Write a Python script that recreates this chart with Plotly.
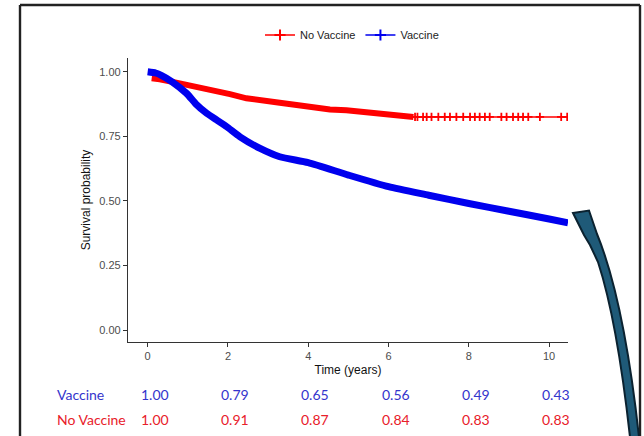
import numpy as np
import plotly.graph_objects as go

# ---------------- data ----------------
vacc_t = [0, 0.2, 0.35, 0.6, 0.97, 1.2, 1.47, 1.75, 1.97, 2.3, 2.8, 3.29, 4.0, 5.0, 6.0, 7.0, 8.0, 9.0, 10.0, 10.47]
vacc_s = [1.0, 0.995, 0.985, 0.962, 0.916, 0.875, 0.839, 0.81, 0.787, 0.748, 0.703, 0.671, 0.648, 0.6, 0.555, 0.522, 0.49, 0.46, 0.43, 0.415]

novac_t = [0.1, 0.3, 0.8, 1.22, 1.63, 2.05, 2.46, 2.88, 3.29, 3.71, 4.12, 4.54, 4.95, 5.37, 5.78, 6.2, 6.62, 10.47]
novac_s = [0.975, 0.971, 0.955, 0.942, 0.929, 0.913, 0.897, 0.886, 0.88, 0.871, 0.862, 0.854, 0.851, 0.845, 0.841, 0.832, 0.825, 0.825]

# censoring times in the sparse tail of the No Vaccine curve
novac_censor = [6.66, 6.72, 6.86, 6.95, 7.07, 7.24, 7.40, 7.53, 7.69, 7.86, 8.03, 8.15, 8.27, 8.40,
                8.52, 8.81, 8.94, 9.10, 9.23, 9.35, 9.48, 9.77, 10.3, 10.45]

table_times = [0, 2, 4, 6, 8, 10]
table_vacc = ["1.00", "0.79", "0.65", "0.56", "0.49", "0.43"]
table_novac = ["1.00", "0.91", "0.87", "0.84", "0.83", "0.83"]

x_ticks = [0, 2, 4, 6, 8, 10]
y_ticks = [0, 0.25, 0.5, 0.75, 1.0]
y_ticklabels = ["0.00", "0.25", "0.50", "0.75", "1.00"]

RED = "#ff0000"
BLUE = "#0000ee"
TXT_BLUE = "#3434cc"
TXT_RED = "#e8202a"

# ---------------- layout geometry (pixels) ----------------
W, H = 644, 436
L, R, T, B = 128, 568, 58, 342  # plot area edges


def px(xp):
    return (xp - L) / (R - L)


def py(yp):
    return (B - yp) / (B - T)


fig = go.Figure()

# No Vaccine: dense part (thick band)
nt = np.array(novac_t)
ns = np.array(novac_s)
mask = nt <= 6.62
fig.add_trace(go.Scatter(x=nt[mask], y=ns[mask], mode="lines",
                         line=dict(color=RED, width=6), showlegend=False, hoverinfo="skip"))
# No Vaccine: sparse tail
fig.add_trace(go.Scatter(x=nt[nt >= 6.2], y=ns[nt >= 6.2], mode="lines",
                         line=dict(color=RED, width=1.5), showlegend=False, hoverinfo="skip"))
cens_y = np.interp(novac_censor, novac_t, novac_s)
fig.add_trace(go.Scatter(x=novac_censor, y=cens_y, mode="markers",
                         marker=dict(symbol="cross-thin", size=6, line=dict(color=RED, width=1.8)),
                         showlegend=False, hoverinfo="skip"))

# Vaccine: thick band
fig.add_trace(go.Scatter(x=vacc_t, y=vacc_s, mode="lines",
                         line=dict(color=BLUE, width=7, shape="spline", smoothing=0.6),
                         showlegend=False, hoverinfo="skip"))

# legend entries
fig.add_trace(go.Scatter(x=[None], y=[None], mode="lines+markers", name="No Vaccine",
                         line=dict(color=RED, width=1.5),
                         marker=dict(symbol="cross-thin", size=8, line=dict(color=RED, width=2))))
fig.add_trace(go.Scatter(x=[None], y=[None], mode="lines+markers", name="Vaccine",
                         line=dict(color=BLUE, width=1.5),
                         marker=dict(symbol="cross-thin", size=8, line=dict(color=BLUE, width=2))))

annotations = []
# risk-table style rows
annotations.append(dict(x=px(55), y=py(394), xref="paper", yref="paper", text="Vaccine",
                        showarrow=False, xanchor="left", yanchor="middle",
                        font=dict(family="Lato", size=14, color=TXT_BLUE)))
annotations.append(dict(x=px(55), y=py(419), xref="paper", yref="paper", text="No Vaccine",
                        showarrow=False, xanchor="left", yanchor="middle",
                        font=dict(family="Lato", size=14, color=TXT_RED)))
for t, v, n in zip(table_times, table_vacc, table_novac):
    annotations.append(dict(x=t, y=py(394), xref="x", yref="paper", text=v, xshift=7,
                            showarrow=False, xanchor="center", yanchor="middle",
                            font=dict(family="Lato", size=14, color=TXT_BLUE)))
    annotations.append(dict(x=t, y=py(419), xref="x", yref="paper", text=n, xshift=7,
                            showarrow=False, xanchor="center", yanchor="middle",
                            font=dict(family="Lato", size=14, color=TXT_RED)))

shapes = []
# outer frame (left, top, right)
frame_line = dict(color="#222222", width=2.4)
shapes.append(dict(type="line", xref="paper", yref="paper",
                   x0=px(20), x1=px(20), y0=py(437), y1=py(5), line=frame_line, layer="above"))
shapes.append(dict(type="line", xref="paper", yref="paper",
                   x0=px(20), x1=px(640), y0=py(5), y1=py(5), line=frame_line, layer="above"))
shapes.append(dict(type="line", xref="paper", yref="paper",
                   x0=px(640), x1=px(640), y0=py(437), y1=py(5), line=frame_line, layer="above"))

# curved arrow
arrow_pts = [("M", 573, 213), ("L", 589, 210.5), ("L", 597, 234),
             ("Q", 624, 300, 639, 437), ("L", 630, 437),
             ("Q", 617, 320, 598, 262), ("L", 590, 245), ("L", 584, 235)]
path = ""
for p in arrow_pts:
    cmd = p[0]
    coords = p[1:]
    segs = []
    for i in range(0, len(coords), 2):
        segs.append(f"{px(coords[i]):.5f},{py(coords[i + 1]):.5f}")
    path += cmd + " " + " ".join(segs) + " "
path += "Z"
shapes.append(dict(type="path", xref="paper", yref="paper", path=path,
                   fillcolor="#1f5a78", line=dict(color="#0b2230", width=2), layer="above"))

fig.update_layout(
    width=W, height=H,
    margin=dict(l=L, r=W - R, t=T, b=H - B, pad=0),
    paper_bgcolor="white", plot_bgcolor="white",
    font=dict(family="Liberation Sans", size=11, color="#4d4d4d"),
    showlegend=True,
    legend=dict(orientation="h", x=px(352), y=py(35), xanchor="center", yanchor="middle",
                font=dict(family="Liberation Sans", size=11, color="#222222"),
                itemwidth=30, bgcolor="rgba(0,0,0,0)", tracegroupgap=0),
    xaxis=dict(range=[-0.49, 10.47], tickvals=x_ticks, ticks="outside", ticklen=4,
               tickcolor="#333333", showline=True, linecolor="#333333", linewidth=1.3,
               showgrid=False, zeroline=False,
               tickfont=dict(family="Liberation Sans", size=11, color="#4d4d4d"),
               title=dict(text="Time (years)", standoff=4,
                          font=dict(family="Liberation Sans", size=12, color="#111111"))),
    yaxis=dict(range=[-0.046, 1.053], tickvals=y_ticks, ticktext=y_ticklabels,
               ticks="outside", ticklen=4,
               tickcolor="#333333", showline=True, linecolor="#333333", linewidth=1.3,
               showgrid=False, zeroline=False,
               tickfont=dict(family="Liberation Sans", size=11, color="#4d4d4d"),
               title=dict(text="Survival probability", standoff=6,
                          font=dict(family="Liberation Sans", size=12, color="#111111"))),
    annotations=annotations,
    shapes=shapes,
)

fig.write_html("out.html",
               config={"displayModeBar": False},
               post_script="document.body.style.margin='0';document.body.style.overflow='hidden';")
